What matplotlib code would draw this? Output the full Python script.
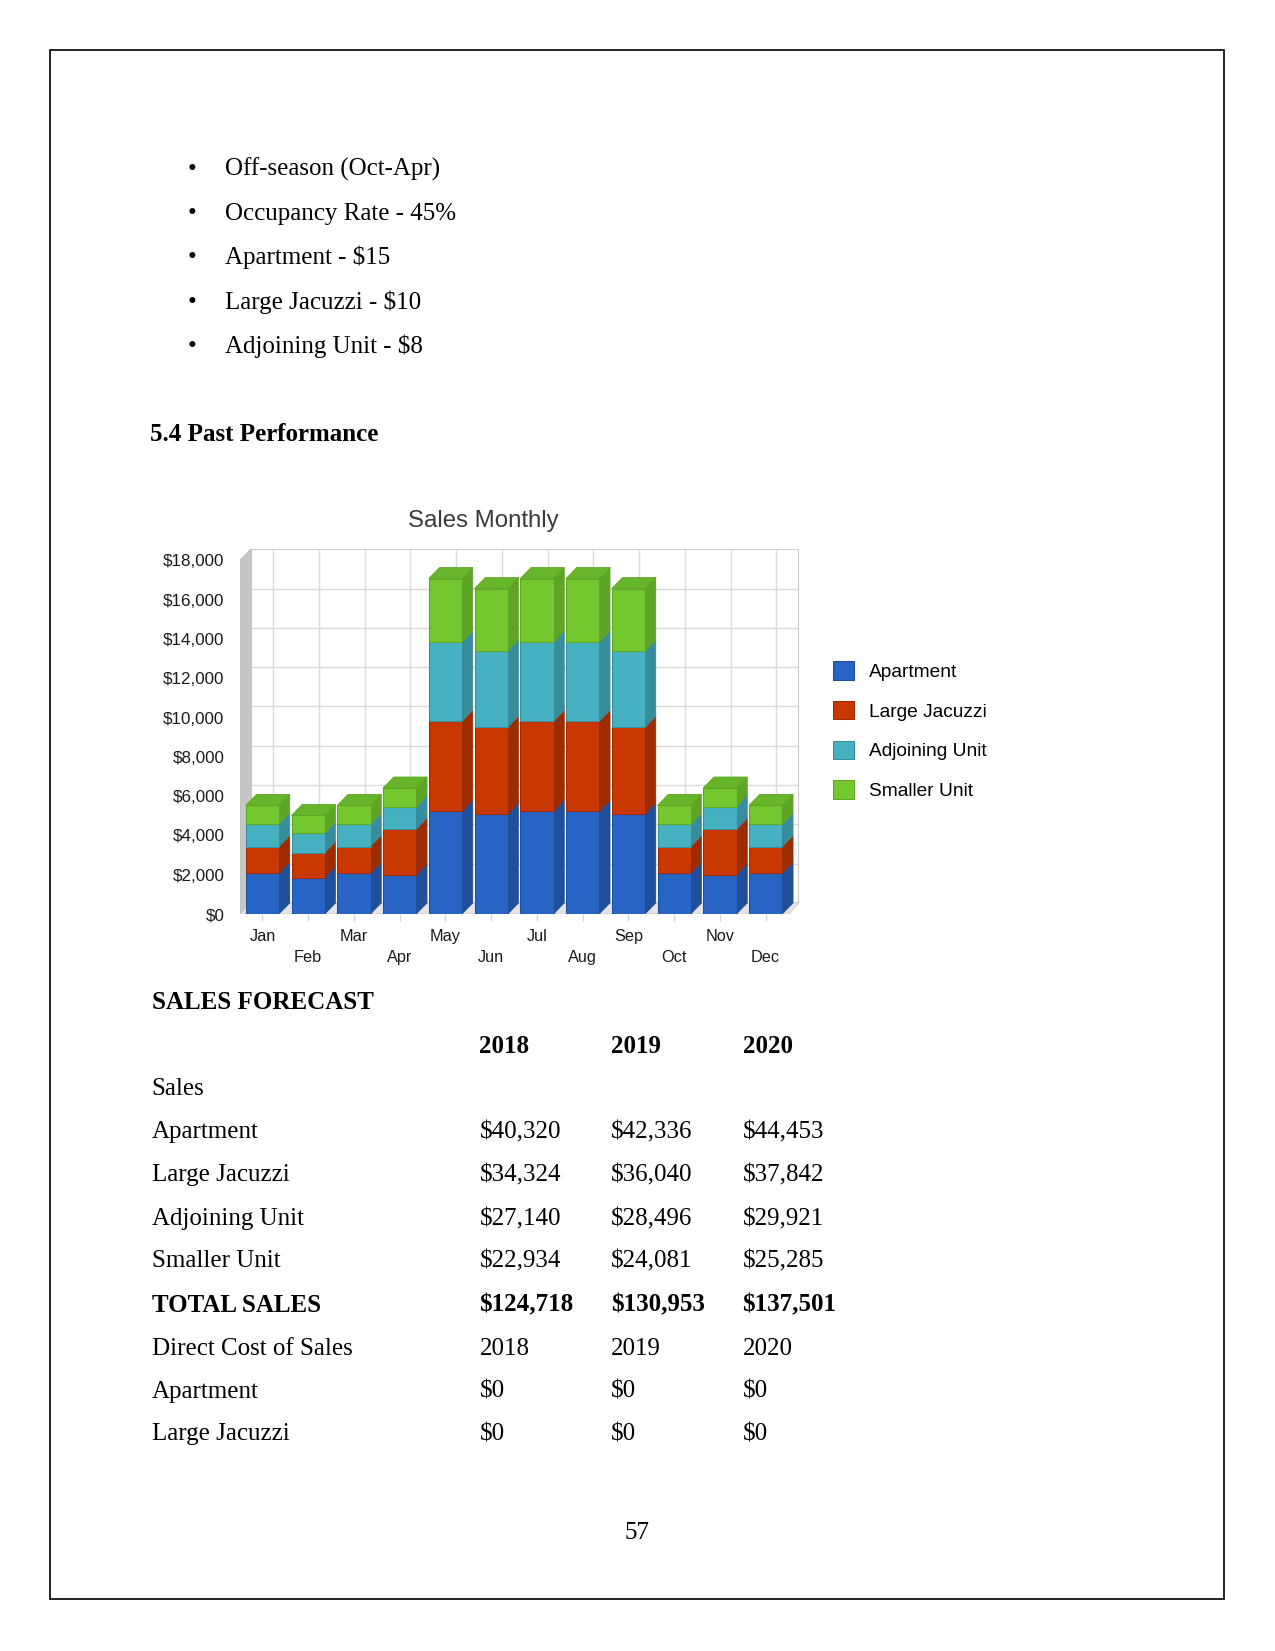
"""Business plan page with the 'Sales Monthly' 3D-style stacked bar chart."""

import matplotlib
matplotlib.use("Agg")
import matplotlib.pyplot as plt
from matplotlib.patches import Patch, Polygon, Rectangle

# ---- data ----
months = ["Jan", "Feb", "Mar", "Apr", "May", "Jun", "Jul", "Aug", "Sep", "Oct", "Nov", "Dec"]
apartment = [2075, 1850, 2075, 1990, 5220, 5080, 5220, 5220, 5080, 2075, 1990, 2075]
large_jacuzzi = [1360, 1275, 1360, 2330, 4590, 4420, 4590, 4590, 4420, 1360, 2330, 1360]
adjoining_unit = [1140, 990, 1140, 1150, 4030, 3880, 4030, 4030, 3880, 1140, 1150, 1140]
smaller_unit = [950, 900, 950, 940, 3230, 3180, 3230, 3230, 3180, 950, 940, 950]
series_names = ["Apartment", "Large Jacuzzi", "Adjoining Unit", "Smaller Unit"]
y_ticks = [0, 2000, 4000, 6000, 8000, 10000, 12000, 14000, 16000, 18000]

bullets = ["Off-season (Oct-Apr)", "Occupancy Rate - 45%", "Apartment - $15",
           "Large Jacuzzi - $10", "Adjoining Unit - $8"]
years = ["2018", "2019", "2020"]
sales_rows = ["Apartment", "Large Jacuzzi", "Adjoining Unit", "Smaller Unit"]
sales_vals = [["$40,320", "$42,336", "$44,453"],
              ["$34,324", "$36,040", "$37,842"],
              ["$27,140", "$28,496", "$29,921"],
              ["$22,934", "$24,081", "$25,285"]]
total_sales = ["$124,718", "$130,953", "$137,501"]
cost_rows = ["Apartment", "Large Jacuzzi"]
cost_vals = [["$0", "$0", "$0"], ["$0", "$0", "$0"]]

# front / side / top colours per series
front_cols = ["#2764c4", "#c93800", "#46b1c1", "#74c72f"]
side_cols = ["#1f4e9a", "#9c2c00", "#378d9c", "#5ea526"]
top_col = "#66b52a"

W, H = 1275, 1651


def fx(px):
    return px / W


def fy(py):
    return 1 - py / H


fig = plt.figure(figsize=(W / 150, H / 150), dpi=150)
fig.patch.set_facecolor("white")

# page frame
fig.add_artist(Rectangle((fx(50.3), fy(1599.3)), fx(1224.3) - fx(50.3), fy(50.3) - fy(1599.3),
                         transform=fig.transFigure, fill=False, ec="black", lw=0.8))

serif = "Liberation Serif"

# bullet list
bullet_y = [176, 220, 264, 309, 353]
for txt, by in zip(bullets, bullet_y):
    fig.text(fx(191.7), fy(by), "\u2022", family=serif, size=12, ha="center", va="baseline")
    fig.text(fx(225), fy(by), txt, family=serif, size=12, va="baseline")

fig.text(fx(150.2), fy(440.7), "5.4 Past Performance", family=serif, size=12,
         weight="bold", va="baseline")

# ---- chart ----
dx, dy = 0.235, 561          # depth offset in data units
x0, x1 = -0.49, 11.5          # front wall extent
width = 0.728

ax = fig.add_axes([fx(240), fy(914), (799.3 - 240) / W, (914 - 549.3) / H])
ax.set_xlim(x0, x1 + dx)
ax.set_ylim(0, y_ticks[-1] + dy)
for s in ax.spines.values():
    s.set_visible(False)
ax.patch.set_alpha(0)

# back wall grid
for v in y_ticks[1:-1]:
    ax.plot([x0 + dx, x1 + dx], [v + dy, v + dy], color="#dcdcdc", lw=0.7, zorder=1)
for i in range(len(months)):
    ax.plot([i + dx, i + dx], [dy, y_ticks[-1] + dy], color="#dcdcdc", lw=0.7, zorder=1)
ax.add_patch(Rectangle((x0 + dx, dy), x1 - x0, y_ticks[-1], fill=False,
                       ec="#c4c4c4", lw=0.8, zorder=1))

# left wall and floor
ax.add_patch(Polygon([(x0, 0), (x0 + dx, dy), (x0 + dx, y_ticks[-1] + dy), (x0, y_ticks[-1])],
                     closed=True, fc="#c6c6c6", ec="#bdbdbd", lw=0.5, zorder=2))
ax.add_patch(Polygon([(x0, 0), (x1, 0), (x1 + dx, dy), (x0 + dx, dy)],
                     closed=True, fc="#e4e4e4", ec="#d0d0d0", lw=0.5, zorder=2))

series = [apartment, large_jacuzzi, adjoining_unit, smaller_unit]
xs = list(range(len(months)))
bottoms = [0] * len(months)
for k, vals in enumerate(series):
    ax.bar(xs, vals, width=width, bottom=bottoms, color=front_cols[k],
           edgecolor=side_cols[k], linewidth=0.5, zorder=4)
    for i in xs:
        b, t = bottoms[i], bottoms[i] + vals[i]
        r = i + width / 2
        ax.add_patch(Polygon([(r, b), (r + dx, b + dy), (r + dx, t + dy), (r, t)],
                             closed=True, fc=side_cols[k], ec=side_cols[k], lw=0.3, zorder=3))
        if k == len(series) - 1:
            l = i - width / 2
            ax.add_patch(Polygon([(l, t), (l + dx, t + dy), (r + dx, t + dy), (r, t)],
                                 closed=True, fc=top_col, ec=side_cols[k], lw=0.4, zorder=3))
    bottoms = [bottoms[i] + vals[i] for i in xs]

ax.set_yticks(y_ticks)
ax.set_yticklabels([f"${v:,}" for v in y_ticks], family="Liberation Sans", size=8.2,
                   color="#1a1a1a")
ax.tick_params(axis="y", length=0, pad=7.5)
ax.set_xticks(xs)
ax.set_xticklabels([m if i % 2 == 0 else "\n" + m for i, m in enumerate(months)],
                   family="Liberation Sans", size=7.8, color="#1a1a1a", linespacing=1.5)
ax.tick_params(axis="x", length=3.5, width=0.6, color="#d4d4d4", pad=3.5)

fig.text(fx(483), fy(527.3), "Sales Monthly", family="Liberation Sans", size=11.5,
         color="#3a3a3a", ha="center", va="baseline")

handles = [Patch(facecolor=front_cols[k], edgecolor=side_cols[k], linewidth=0.5)
           for k in range(len(series_names))]
fig.legend(handles, series_names, loc="upper left",
           bbox_to_anchor=(fx(833), fy(661)), frameon=False, borderpad=0,
           borderaxespad=0, prop={"family": "Liberation Sans", "size": 9.2},
           handlelength=1.12, handleheight=1.12, handletextpad=0.75, labelspacing=1.04)

# ---- sales forecast table ----
col_x = [479.5, 611, 742.5]
fig.text(fx(151.5), fy(1009.3), "SALES FORECAST", family=serif, size=12, weight="bold",
         va="baseline")
for yr, cx in zip(years, col_x):
    fig.text(fx(cx), fy(1052.7), yr, family=serif, size=12, weight="bold", va="baseline")
fig.text(fx(151.5), fy(1095), "Sales", family=serif, size=12, va="baseline")
row_y = [1138.3, 1181, 1225, 1267.3]
for name, vals, ry in zip(sales_rows, sales_vals, row_y):
    fig.text(fx(151.5), fy(ry), name, family=serif, size=12, va="baseline")
    for v, cx in zip(vals, col_x):
        fig.text(fx(cx), fy(ry), v, family=serif, size=12, va="baseline")
fig.text(fx(151.5), fy(1311.7), "TOTAL SALES", family=serif, size=12, weight="bold",
         va="baseline")
for v, cx in zip(total_sales, col_x):
    fig.text(fx(cx), fy(1311.7), v, family=serif, size=12, weight="bold", va="baseline")
fig.text(fx(151.5), fy(1355), "Direct Cost of Sales", family=serif, size=12, va="baseline")
for yr, cx in zip(years, col_x):
    fig.text(fx(cx), fy(1355), yr, family=serif, size=12, va="baseline")
for name, vals, ry in zip(cost_rows, cost_vals, [1397.7, 1440]):
    fig.text(fx(151.5), fy(ry), name, family=serif, size=12, va="baseline")
    for v, cx in zip(vals, col_x):
        fig.text(fx(cx), fy(ry), v, family=serif, size=12, va="baseline")

fig.text(fx(637.3), fy(1539.3), "57", family=serif, size=12, ha="center", va="baseline")

fig.savefig("out.png", dpi=150)
